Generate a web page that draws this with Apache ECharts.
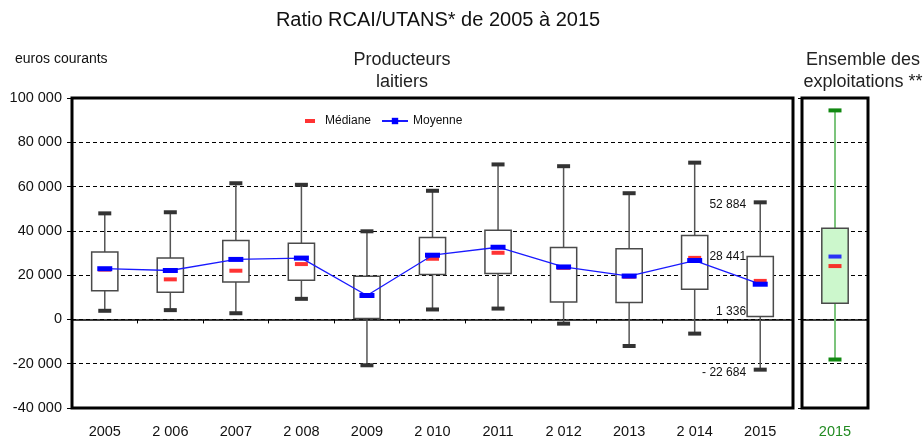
<!DOCTYPE html>
<html>
<head>
<meta charset="utf-8">
<script src="https://cdn.jsdelivr.net/npm/echarts@6/dist/echarts.min.js"></script>
<style>
html, body { margin: 0; padding: 0; background: #fff; }
#chart { width: 923px; height: 439px; }
</style>
</head>
<body>
<div id="chart"></div>
<script>
// categories
var years = ['2005', '2 006', '2007', '2 008', '2009', '2 010', '2011', '2 012', '2013', '2 014', '2015'];
// producteurs laitiers : boites
var lowW = [3900, 4200, 2800, 9300, -20700, 4500, 4900, -1900, -12000, -6400, -22684];
var q1 = [13000, 12300, 16900, 17700, 400, 20300, 20700, 7900, 7600, 13600, 1336];
var q3 = [30400, 27700, 35600, 34400, 19500, 37000, 40300, 32500, 31900, 37900, 28441];
var highW = [47900, 48400, 61500, 60800, 39800, 58100, 70000, 69200, 57000, 70800, 52884];
var medians = [22500, 18100, 22000, 25000, 10700, 27400, 30100, 23300, 19300, 27800, 17400];
var means = [22900, 22100, 27100, 27700, 10800, 29000, 32600, 23700, 19600, 26600, 15900];
// ensemble des exploitations 2015
var allYears = ['2015'];
var allBox = [-18100, 7300, 41200, 94400];
var allMedian = [24100];
var allMean = [28400];
// annotations 2015
var annotValues = [52884, 28441, 1336, -22684];
var annotLabels = ['52 884', '28 441', '1 336', '- 22 684'];
var annotShift = [2, 0, -5, 3];

function fmt(v) {
    var s = Math.abs(v).toString().replace(/\B(?=(\d{3})+(?!\d))/g, ' ');
    return (v < 0 ? '-' : '') + s;
}

function makeBox(style) {
    return function (params, api) {
        var i = api.value(0);
        var cx = api.coord([i, 0])[0];
        var yLow = api.coord([i, api.value(1)])[1];
        var yQ1 = api.coord([i, api.value(2)])[1];
        var yQ3 = api.coord([i, api.value(3)])[1];
        var yHigh = api.coord([i, api.value(4)])[1];
        var bw = api.size([1, 0])[0] * 0.4;
        return {
            type: 'group',
            children: [
                { type: 'line', shape: { x1: cx, y1: yHigh, x2: cx, y2: yQ3 }, style: { stroke: style.whisker, lineWidth: style.wWidth } },
                { type: 'line', shape: { x1: cx, y1: yQ1, x2: cx, y2: yLow }, style: { stroke: style.whisker, lineWidth: style.wWidth } },
                { type: 'rect', shape: { x: cx - bw / 2, y: yQ3, width: bw, height: yQ1 - yQ3 }, style: { fill: style.fill, stroke: '#4a4a4a', lineWidth: 1.5 } },
                { type: 'rect', shape: { x: cx - 6.5, y: yHigh - 2, width: 13, height: 4 }, style: { fill: style.cap } },
                { type: 'rect', shape: { x: cx - 6.5, y: yLow - 2, width: 13, height: 4 }, style: { fill: style.cap } }
            ]
        };
    };
}

// annotations des valeurs 2015, placées à gauche de la boite
function renderAnnot(params, api) {
    var p = api.coord([api.value(0), api.value(1)]);
    var bw = api.size([1, 0])[0] * 0.4;
    var i = params.dataIndex;
    return {
        type: 'text',
        style: {
            x: p[0] - bw / 2 - 1, y: p[1] + annotShift[i],
            text: annotLabels[i], fill: '#111', fontSize: 12,
            fontFamily: 'Liberation Sans, Arial, sans-serif',
            align: 'right', verticalAlign: 'middle'
        }
    };
}

var boxData = years.map(function (y, i) { return [i, lowW[i], q1[i], q3[i], highW[i]]; });
var allData = [[0, allBox[0], allBox[1], allBox[2], allBox[3]]];

var myChart = echarts.init(document.getElementById('chart'));
var option = {
    animation: false,
    textStyle: { fontFamily: 'Liberation Sans, Arial, sans-serif' },
    title: [
        { text: 'Ratio RCAI/UTANS* de 2005 à 2015', left: 433, top: 5, textAlign: 'center',
          textStyle: { fontSize: 20, fontWeight: 'normal', color: '#111' } },
        { text: 'euros courants', left: 10, top: 47,
          textStyle: { fontSize: 14, fontWeight: 'normal', color: '#111' } },
        { text: 'Producteurs\nlaitiers', left: 397, top: 44, textAlign: 'center',
          textStyle: { fontSize: 18, fontWeight: 'normal', color: '#222', lineHeight: 22, align: 'center' } },
        { text: 'Ensemble des\nexploitations **', left: 858, top: 44, textAlign: 'center',
          textStyle: { fontSize: 18, fontWeight: 'normal', color: '#222', lineHeight: 22, align: 'center' } }
    ],
    legend: [
        { data: ['Médiane'], left: 300, top: 110, icon: 'rect', itemWidth: 10, itemHeight: 4,
          textStyle: { fontSize: 12, color: '#111', padding: [0, 0, 0, 5] } },
        { data: ['Moyenne'], left: 376, top: 110, itemWidth: 26, itemHeight: 8,
          textStyle: { fontSize: 12, color: '#111' } }
    ],
    grid: [
        { left: 72, right: 130, top: 98, bottom: 28, show: true, borderColor: '#000', borderWidth: 3, containLabel: false },
        { left: 802, right: 55, top: 98, bottom: 28, show: true, borderColor: '#000', borderWidth: 3, containLabel: false }
    ],
    xAxis: [
        { type: 'category', gridIndex: 0, data: years, position: 'bottom',
          axisLine: { onZero: true, lineStyle: { color: '#000', width: 1.5 } },
          axisTick: { show: true, length: 4, interval: 0, lineStyle: { color: '#000' } },
          axisLabel: { show: false } },
        { type: 'category', gridIndex: 0, data: years, position: 'bottom',
          axisLine: { show: false, onZero: false }, axisTick: { show: false },
          axisLabel: { fontSize: 14.5, color: '#111', margin: 16, interval: 0 } },
        { type: 'category', gridIndex: 1, data: allYears, position: 'bottom',
          axisLine: { onZero: true, lineStyle: { color: '#000', width: 1.5 } },
          axisTick: { show: false }, axisLabel: { show: false } },
        { type: 'category', gridIndex: 1, data: allYears, position: 'bottom',
          axisLine: { show: false, onZero: false }, axisTick: { show: false },
          axisLabel: { fontSize: 14.5, color: '#228b22', margin: 16 } }
    ],
    yAxis: [
        { type: 'value', gridIndex: 0, min: -40000, max: 100000, interval: 20000,
          axisLine: { show: false },
          axisTick: { show: true, length: 5, lineStyle: { color: '#000' } },
          axisLabel: { fontSize: 14.5, color: '#111', margin: 10, formatter: fmt },
          splitLine: { lineStyle: { color: '#000', type: [4, 3], width: 1 } } },
        { type: 'value', gridIndex: 1, min: -40000, max: 100000, interval: 20000,
          axisLine: { show: false },
          axisTick: { show: true, length: 4, lineStyle: { color: '#000' } },
          axisLabel: { show: false },
          splitLine: { lineStyle: { color: '#000', type: [4, 3], width: 1 } } }
    ],
    series: [
        { name: 'boites', type: 'custom', xAxisIndex: 0, yAxisIndex: 0, z: 2,
          renderItem: makeBox({ whisker: '#555', wWidth: 1.5, fill: '#fff', cap: '#333' }),
          encode: { x: 0, y: [1, 2, 3, 4] }, data: boxData },
        { name: 'Médiane', type: 'scatter', xAxisIndex: 0, yAxisIndex: 0, z: 3,
          symbol: 'rect', symbolSize: [13, 4], itemStyle: { color: '#ff0000' },
          data: medians.map(function (v, i) { return [i, v]; }) },
        { name: 'Moyenne', type: 'line', xAxisIndex: 0, yAxisIndex: 0, z: 4,
          symbol: 'rect', symbolSize: [15, 5], showSymbol: true,
          lineStyle: { color: '#1a1aff', width: 1.3 }, itemStyle: { color: '#0000ff' },
          data: means },
        { name: 'annot', type: 'custom', xAxisIndex: 0, yAxisIndex: 0, z: 5, silent: true,
          renderItem: renderAnnot, encode: { x: 0, y: 1 },
          data: annotValues.map(function (v) { return [10, v]; }) },
        { name: 'ensemble', type: 'custom', xAxisIndex: 2, yAxisIndex: 1, z: 2,
          renderItem: makeBox({ whisker: '#7cc47c', wWidth: 2, fill: '#ccf7cc', cap: '#118811' }),
          encode: { x: 0, y: [1, 2, 3, 4] }, data: allData },
        { name: 'ens_med', type: 'scatter', xAxisIndex: 2, yAxisIndex: 1, z: 3,
          symbol: 'rect', symbolSize: [13, 4], itemStyle: { color: '#ff0000' },
          data: allMedian.map(function (v, i) { return [i, v]; }) },
        { name: 'ens_moy', type: 'scatter', xAxisIndex: 2, yAxisIndex: 1, z: 4,
          symbol: 'rect', symbolSize: [13, 4], itemStyle: { color: '#0000ff' },
          data: allMean.map(function (v, i) { return [i, v]; }) }
    ]
};
myChart.setOption(option);
</script>
</body>
</html>
